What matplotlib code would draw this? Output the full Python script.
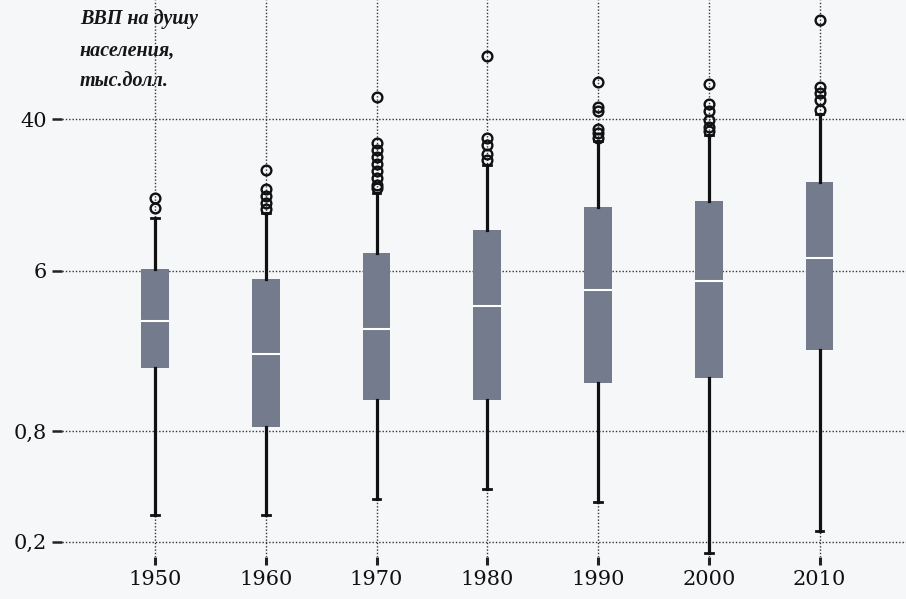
import matplotlib.pyplot as plt
from matplotlib.ticker import FixedLocator, NullLocator

years = ['1950', '1960', '1970', '1980', '1990', '2000', '2010']
whis_lo = [0.28, 0.28, 0.34, 0.39, 0.33, 0.173, 0.23]
q1 = [1.77, 0.84, 1.18, 1.18, 1.47, 1.56, 2.21]
median = [3.19, 2.11, 2.88, 3.83, 4.7, 5.25, 7.05]
q3 = [6.13, 5.41, 7.45, 9.98, 13.4, 14.3, 18.3]
whis_hi = [11.6, 12.4, 15.8, 22.5, 30.6, 33.1, 43.0]
outliers = [
    [13.1, 14.9],
    [13.0, 14.1, 15.3, 16.7, 21.1],
    [16.9, 17.6, 19.2, 20.9, 22.8, 24.9, 27.1, 29.6, 52.7],
    [23.9, 26.0, 29.0, 31.8, 88.9],
    [31.6, 33.7, 35.4, 44.7, 46.7, 64.3],
    [34.7, 36.4, 39.5, 44.6, 48.4, 62.4],
    [45.1, 50.8, 55.4, 60.1, 140.0],
]
y_ticks = [0.2, 0.8, 6, 40]
y_labels = ['0,2', '0,8', '6', '40']

bg = '#f5f7f9'
box_color = '#747b8c'
serif = ['DejaVu Serif']

fig = plt.figure(figsize=(9.06, 5.99), dpi=100, facecolor=bg)
ax = fig.add_axes([0.0684, 0.070, 0.9316, 0.930])
ax.set_facecolor(bg)

stats = []
for i in range(len(years)):
    stats.append(dict(whislo=whis_lo[i], q1=q1[i], med=median[i], q3=q3[i],
                      whishi=whis_hi[i], fliers=outliers[i], label=years[i]))

ax.bxp(stats, positions=range(len(years)), widths=0.25, patch_artist=True,
       boxprops=dict(facecolor=box_color, edgecolor=box_color, linewidth=0),
       medianprops=dict(color='white', linewidth=1.5),
       whiskerprops=dict(color='#111111', linewidth=2.3),
       capprops=dict(color='#111111', linewidth=2),
       capwidths=0.07,
       flierprops=dict(marker='o', markerfacecolor='none', markeredgecolor='#111111',
                       markersize=7, markeredgewidth=1.7),
       zorder=3)

ax.set_yscale('log')
ax.set_ylim(0.165, 179)
ax.set_xlim(-0.84, 6.78)

ax.yaxis.set_major_locator(FixedLocator(y_ticks))
ax.yaxis.set_minor_locator(NullLocator())
ax.set_yticklabels(y_labels)
ax.set_xticks(range(len(years)))
ax.set_xticklabels(years)

for s in ax.spines.values():
    s.set_visible(False)

ax.grid(True, which='major', linestyle=(0, (1, 1.4)), color='#333333', linewidth=1)
ax.set_axisbelow(True)

ax.tick_params(axis='y', length=7, width=1.8, color='#222222', pad=4,
               labelsize=15, labelcolor='#111111')
ax.tick_params(axis='x', length=6, width=2.2, color='#222222', pad=3,
               labelsize=15, labelcolor='#111111')
for lab in ax.get_xticklabels() + ax.get_yticklabels():
    lab.set_family(serif)

fig.text(0.088, 0.985, 'ВВП на душу\nнаселения,\nтыс.долл.', ha='left', va='top',
         fontsize=14.5, style='italic', fontweight='bold',
         family=['Liberation Serif', 'DejaVu Serif'],
         color='#161616', linespacing=1.75)

fig.savefig('out.png', dpi=100, facecolor=bg)
